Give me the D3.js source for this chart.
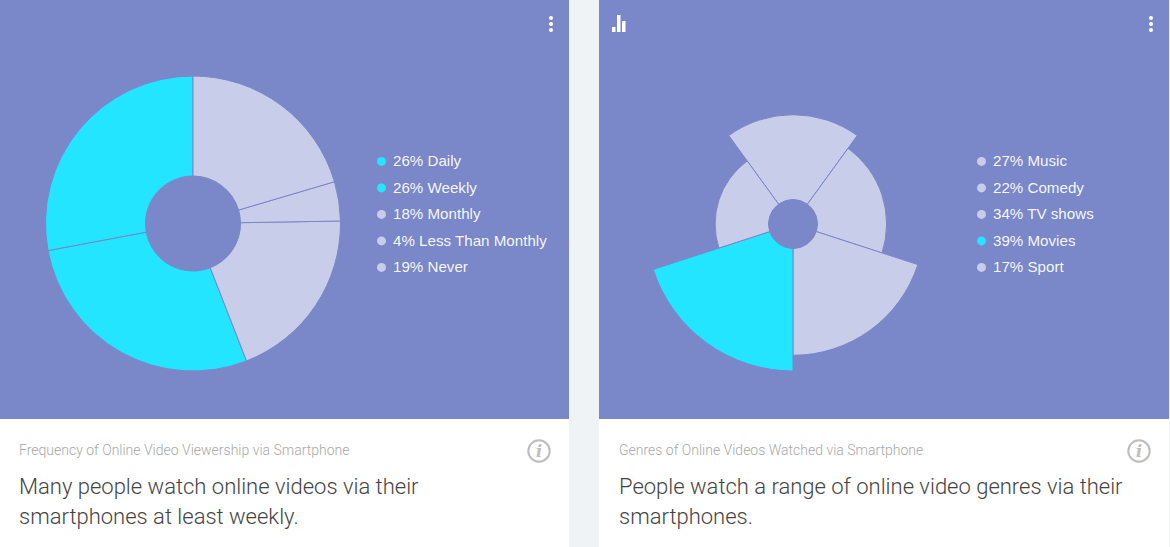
<!DOCTYPE html>
<html>
<head>
<meta charset="utf-8">
<script src="https://cdn.jsdelivr.net/npm/d3@7"></script>
<style>
  html, body { margin: 0; padding: 0; background: #eff3f6; }
  svg { display: block; }
  .legend { font-family: "Liberation Sans", sans-serif; font-size: 15.15px; fill: #fff; fill-opacity: 0.95; }
  .subtitle { font-family: Roboto, sans-serif; font-weight: 300; font-size: 14px; fill: #a8a8a8; }
  .headline { font-family: Roboto, sans-serif; font-weight: 300; font-size: 22px; fill: #444; }
</style>
</head>
<body>
<svg width="1170" height="547"></svg>
<script>
const panelColor = "#7a87c8";
const cyan = "#24e5ff";
const pale = "#c8cde9";

// frequency chart, legend order
const freqLabels = ["Daily", "Weekly", "Monthly", "Less Than Monthly", "Never"];
const freqValues = [26, 26, 18, 4, 19];
const freqHighlight = [true, true, false, false, false];
const freqSubtitle = "Frequency of Online Video Viewership via Smartphone";
const freqHeadline = ["Many people watch online videos via their", "smartphones at least weekly."];

// genre chart, legend order
const genreLabels = ["Music", "Comedy", "TV shows", "Movies", "Sport"];
const genreValues = [27, 22, 34, 39, 17];
const genreHighlight = [false, false, false, true, false];
const genreSubtitle = "Genres of Online Videos Watched via Smartphone";
const genreHeadline = ["People watch a range of online video genres via their", "smartphones."];

const svg = d3.select("svg");

function drawCard(x, width, textX, subtitle, headline) {
  const g = svg.append("g").attr("transform", `translate(${x},0)`);
  g.append("rect").attr("width", width).attr("height", 419).attr("fill", panelColor);
  g.append("rect").attr("y", 419).attr("width", width).attr("height", 128).attr("fill", "#fff");
  g.append("text").attr("class", "subtitle").attr("x", textX).attr("y", 455).text(subtitle);
  g.selectAll(".headline").data(headline).enter().append("text")
    .attr("class", "headline")
    .attr("x", textX)
    .attr("y", (d, i) => 494 + i * 30)
    .text((d) => d);

  // three dots menu
  g.selectAll(".dot").data([-6, 0, 6]).enter().append("circle")
    .attr("class", "dot")
    .attr("cx", width - 18)
    .attr("cy", (d) => 24 + d)
    .attr("r", 2)
    .attr("fill", "#fff");

  // info icon
  const info = g.append("g").attr("transform", `translate(${width - 30},451)`);
  info.append("circle").attr("r", 10.7).attr("fill", "none").attr("stroke", "#bdbdbd").attr("stroke-width", 2);
  info.append("text")
    .attr("text-anchor", "middle")
    .attr("y", 6)
    .attr("font-family", "'DejaVu Serif', serif")
    .attr("font-style", "italic")
    .attr("font-weight", "bold")
    .attr("font-size", 16)
    .attr("fill", "#bdbdbd")
    .text("i");
  return g;
}

function drawLegend(g, x, labels, values, highlight) {
  const rows = g.selectAll(".row").data(labels).enter().append("g")
    .attr("class", "row")
    .attr("transform", (d, i) => `translate(${x},${161.4 + i * 26.5})`);
  rows.append("circle")
    .attr("r", 4.5)
    .attr("fill", (d, i) => (highlight[i] ? cyan : pale));
  rows.append("text")
    .attr("class", "legend")
    .attr("x", 11.5)
    .attr("y", 5)
    .text((d, i) => `${values[i]}% ${d}`);
}

// left card: donut, runs counter-clockwise from the top in legend order
const leftCard = drawCard(0, 569, 19, freqSubtitle, freqHeadline);
const pie = d3.pie().sort(null).startAngle(0).endAngle(-2 * Math.PI);
const donutArc = d3.arc().innerRadius(47.5).outerRadius(147.5);
leftCard.append("g")
  .attr("transform", "translate(193,223.5)")
  .selectAll("path")
  .data(pie(freqValues))
  .enter()
  .append("path")
  .attr("d", donutArc)
  .attr("fill", (d, i) => (freqHighlight[i] ? cyan : pale))
  .attr("stroke", panelColor)
  .attr("stroke-width", 1);
drawLegend(leftCard, 381.5, freqLabels, freqValues, freqHighlight);

// right card: polar area, equal angles and radius from value
const rightCard = drawCard(599, 570, 20, genreSubtitle, genreHeadline);
const radius = d3.scaleLinear().domain([0, d3.max(genreValues)]).range([24.5, 147]);
const angle = d3.scaleBand().domain(d3.range(genreValues.length)).range([-Math.PI / 5, 2 * Math.PI - Math.PI / 5]);
const sectorArc = d3.arc()
  .innerRadius(24.5)
  .outerRadius((d, i) => radius(d))
  .startAngle((d, i) => angle(i))
  .endAngle((d, i) => angle(i) + angle.bandwidth());
rightCard.append("g")
  .attr("transform", "translate(194,224)")
  .selectAll("path")
  .data(genreValues)
  .enter()
  .append("path")
  .attr("d", sectorArc)
  .attr("fill", (d, i) => (genreHighlight[i] ? cyan : pale))
  .attr("stroke", panelColor)
  .attr("stroke-width", 1);
drawLegend(rightCard, 382.5, genreLabels, genreValues, genreHighlight);

// small bar icon, top left of right card
const iconBars = [5, 17, 11];
const iconY = d3.scaleLinear().domain([0, 17]).range([0, 17]);
rightCard.append("g")
  .attr("transform", "translate(13,32)")
  .selectAll("rect")
  .data(iconBars)
  .enter()
  .append("rect")
  .attr("x", (d, i) => i * 5)
  .attr("y", (d) => -iconY(d))
  .attr("width", 3.5)
  .attr("height", (d) => iconY(d))
  .attr("fill", "#fff");
</script>
</body>
</html>
